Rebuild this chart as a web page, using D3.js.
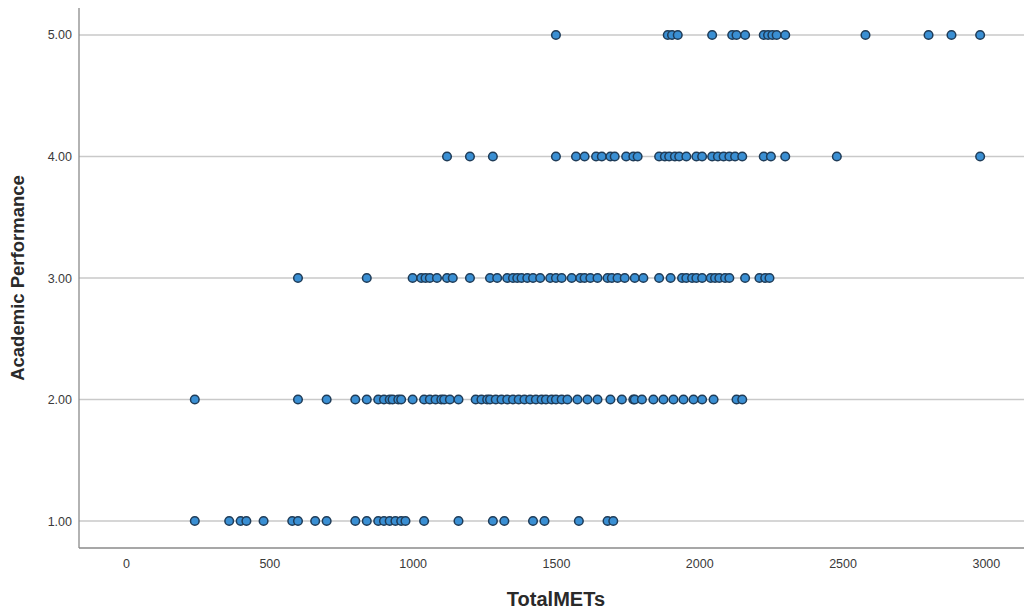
<!DOCTYPE html>
<html>
<head>
<meta charset="utf-8">
<script src="https://cdn.jsdelivr.net/npm/d3@7"></script>
<style>
  body { margin: 0; background: #fff; }
  svg { display: block; font-family: Arial, "Liberation Sans", sans-serif; }
  .tick text { fill: #3a3a3a; font-size: 12.5px; }
</style>
</head>
<body>
<svg id="chart" width="1026" height="609"></svg>
<script>
// TotalMETs per Academic Performance level
let perf1 = [240, 360, 400, 420, 480, 580, 600, 660, 700, 800, 840, 880, 900, 920, 940, 960, 975,
  1040, 1160, 1280, 1320, 1420, 1460, 1580, 1680, 1700];
let perf2 = [240, 600, 700, 800, 840, 880, 900, 920, 930, 950, 960, 1000, 1040, 1060, 1080, 1100,
  1110, 1130, 1160, 1220, 1240, 1260, 1270, 1290, 1310, 1330, 1350, 1370, 1390, 1410, 1430, 1450,
  1465, 1485, 1500, 1520, 1540, 1575, 1610, 1645, 1690, 1730, 1770, 1775, 1800, 1840, 1875, 1910,
  1945, 1980, 2010, 2050, 2130, 2150];
let perf3 = [600, 840, 1000, 1030, 1045, 1060, 1085, 1120, 1140, 1200, 1270, 1295, 1330, 1350, 1365,
  1380, 1400, 1420, 1445, 1480, 1500, 1520, 1555, 1585, 1600, 1620, 1645, 1680, 1695, 1715, 1740,
  1775, 1805, 1860, 1900, 1940, 1955, 1975, 1990, 2010, 2040, 2055, 2070, 2090, 2105, 2160, 2210,
  2230, 2245];
let perf4 = [1120, 1200, 1280, 1500, 1570, 1600, 1640, 1660, 1690, 1705, 1745, 1770, 1785, 1860,
  1880, 1895, 1915, 1930, 1955, 1990, 2010, 2045, 2065, 2085, 2105, 2125, 2150, 2225, 2250, 2300,
  2480, 2980];
let perf5 = [1500, 1890, 1905, 1925, 2045, 2115, 2130, 2160, 2225, 2240, 2255, 2270, 2300, 2580,
  2800, 2880, 2980];

let levels = [1, 2, 3, 4, 5];
let xTicks = [0, 500, 1000, 1500, 2000, 2500, 3000];

let drawScatter = function() {
  let svg = d3.select("#chart");
  let margin = { top: 8, right: 0, bottom: 61, left: 79 };
  let bounds = svg.node().getBoundingClientRect();
  let plotWidth = bounds.width - margin.left - margin.right;
  let plotHeight = bounds.height - margin.top - margin.bottom;

  let x = d3.scaleLinear().domain([-164, 3140]).range([0, plotWidth]);
  let y = d3.scaleLinear().domain([0.778, 5.222]).range([plotHeight, 0]);

  let plot = svg.append("g")
    .attr("transform", "translate(" + margin.left + "," + margin.top + ")");

  // horizontal grid lines at each level
  plot.append("g").selectAll("line")
    .data(levels)
    .enter().append("line")
    .attr("x1", 0)
    .attr("x2", plotWidth - 2)
    .attr("y1", d => y(d))
    .attr("y2", d => y(d))
    .attr("stroke", "#c9c9c9")
    .attr("stroke-width", 1.3);

  let xAxis = d3.axisBottom(x).tickValues(xTicks).tickSize(0).tickPadding(11)
    .tickFormat(d3.format("d"));
  let yAxis = d3.axisLeft(y).tickValues(levels).tickSize(0).tickPadding(7)
    .tickFormat(d3.format(".2f"));

  let xGroup = plot.append("g")
    .attr("transform", "translate(0," + plotHeight + ")")
    .call(xAxis);
  xGroup.select(".domain").remove();

  let yGroup = plot.append("g").call(yAxis);
  yGroup.select(".domain").remove();

  // axis frame lines (left and bottom)
  plot.append("line")
    .attr("x1", 0).attr("x2", 0)
    .attr("y1", 0).attr("y2", plotHeight)
    .attr("stroke", "#8a8a8a").attr("stroke-width", 1.3);
  plot.append("line")
    .attr("x1", 0).attr("x2", plotWidth - 2)
    .attr("y1", plotHeight).attr("y2", plotHeight)
    .attr("stroke", "#8a8a8a").attr("stroke-width", 1.3);

  let series = [perf1, perf2, perf3, perf4, perf5];
  let points = [];
  series.forEach(function(vals, i) {
    vals.forEach(function(v) { points.push({ mets: v, perf: levels[i] }); });
  });

  plot.append("g").selectAll("circle")
    .data(points)
    .enter().append("circle")
    .attr("cx", d => x(d.mets))
    .attr("cy", d => y(d.perf))
    .attr("r", 4.3)
    .attr("fill", "#3a8fd3")
    .attr("stroke", "#1f3c58")
    .attr("stroke-width", 1.5);

  svg.append("text")
    .attr("x", margin.left + x(1500))
    .attr("y", 606)
    .style("text-anchor", "middle")
    .style("font-size", "20px")
    .style("font-weight", "bold")
    .style("fill", "#2a2a2a")
    .text("TotalMETs");

  svg.append("text")
    .attr("transform", "translate(24," + (margin.top + y(3)) + ") rotate(-90)")
    .style("text-anchor", "middle")
    .style("font-size", "18.5px")
    .style("font-weight", "bold")
    .style("fill", "#2a2a2a")
    .text("Academic Performance");
};

drawScatter();
</script>
</body>
</html>
